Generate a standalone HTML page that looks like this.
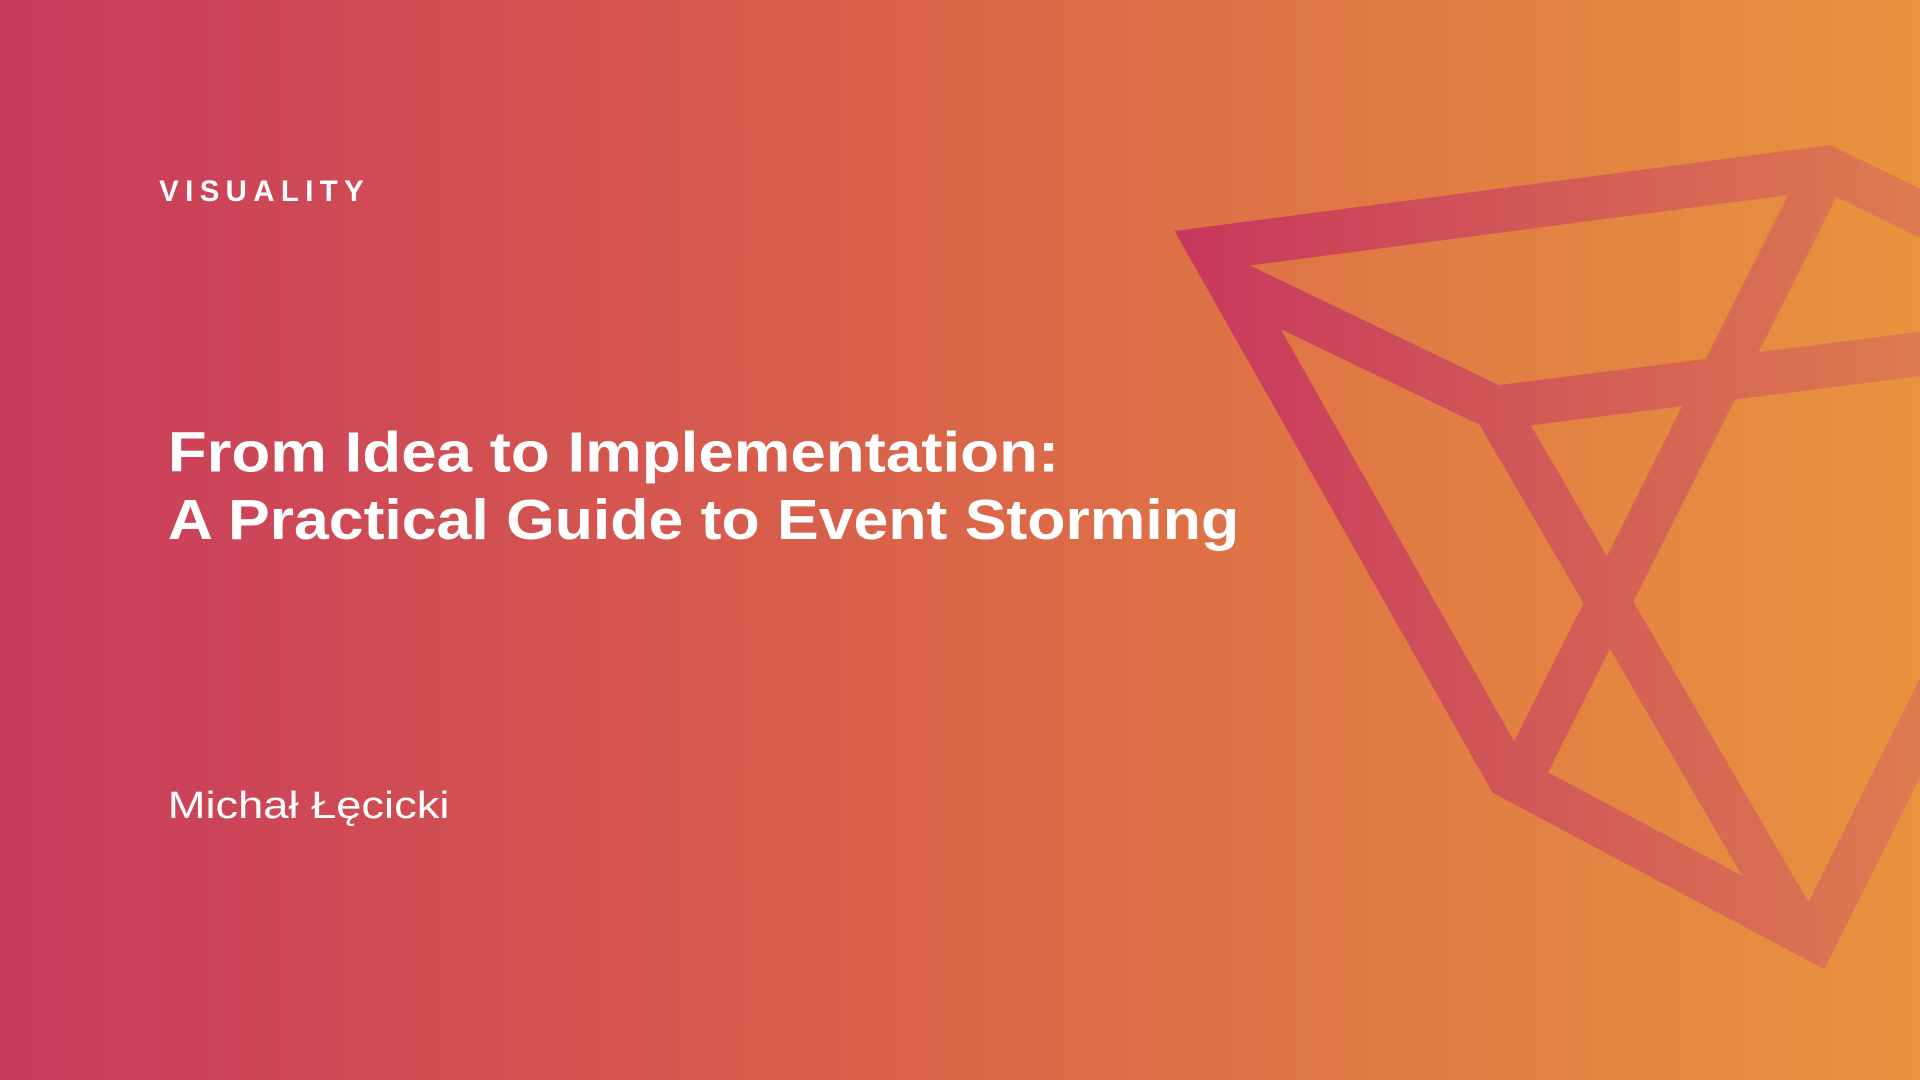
<!DOCTYPE html>
<html><head><meta charset="utf-8"><style>
html,body{margin:0;padding:0;width:1920px;height:1080px;overflow:hidden}
svg{display:block}
</style></head><body>
<svg width="1920" height="1080" viewBox="0 0 1568 882" xmlns="http://www.w3.org/2000/svg">
<defs>
<linearGradient id="bg" x1="0" y1="0" x2="1" y2="0">
<stop offset="0" stop-color="#C83A5C"/>
<stop offset="0.45" stop-color="#D9614A"/>
<stop offset="1" stop-color="#E8933E"/>
</linearGradient>
<linearGradient id="st" gradientUnits="userSpaceOnUse" x1="960" y1="0" x2="1568" y2="0">
<stop offset="0" stop-color="#C8375D"/>
<stop offset="0.5" stop-color="#D25A57"/>
<stop offset="1" stop-color="#DE7A50"/>
</linearGradient>
<clipPath id="cp"><polygon points="975,200 1492,137 1600,190 1600,530 1482,767 1232,634"/></clipPath>
</defs>
<rect width="1568" height="882" fill="url(#bg)"/>
<g fill="none" stroke="url(#st)" stroke-width="36" stroke-linejoin="miter" stroke-miterlimit="10">
<polyline points="1600,190 1492,137 988,203 1232,634 1482,767 1600,530"/>
<g clip-path="url(#cp)">
<polyline points="990,222 1221,333 1600,285"/>
<line x1="1510" y1="100" x2="1232" y2="655"/>
<line x1="1221" y1="333" x2="1490" y2="795"/>
</g>
</g>
<text x="130" y="164" fill="#fff" font-family="Liberation Sans, sans-serif" font-size="24" font-weight="bold" textLength="167" lengthAdjust="spacing">VISUALITY</text>
<g fill="#fff" font-family="Liberation Sans, sans-serif" font-weight="bold" font-size="46">
<text x="137" y="385" textLength="728" lengthAdjust="spacingAndGlyphs">From Idea to Implementation:</text>
<text x="137" y="440" textLength="875" lengthAdjust="spacingAndGlyphs">A Practical Guide to Event Storming</text>
</g>
<text x="137" y="668" fill="#fff" font-family="Liberation Sans, sans-serif" font-size="31" textLength="230" lengthAdjust="spacingAndGlyphs">Michał Łęcicki</text>
</svg>
</body></html>
